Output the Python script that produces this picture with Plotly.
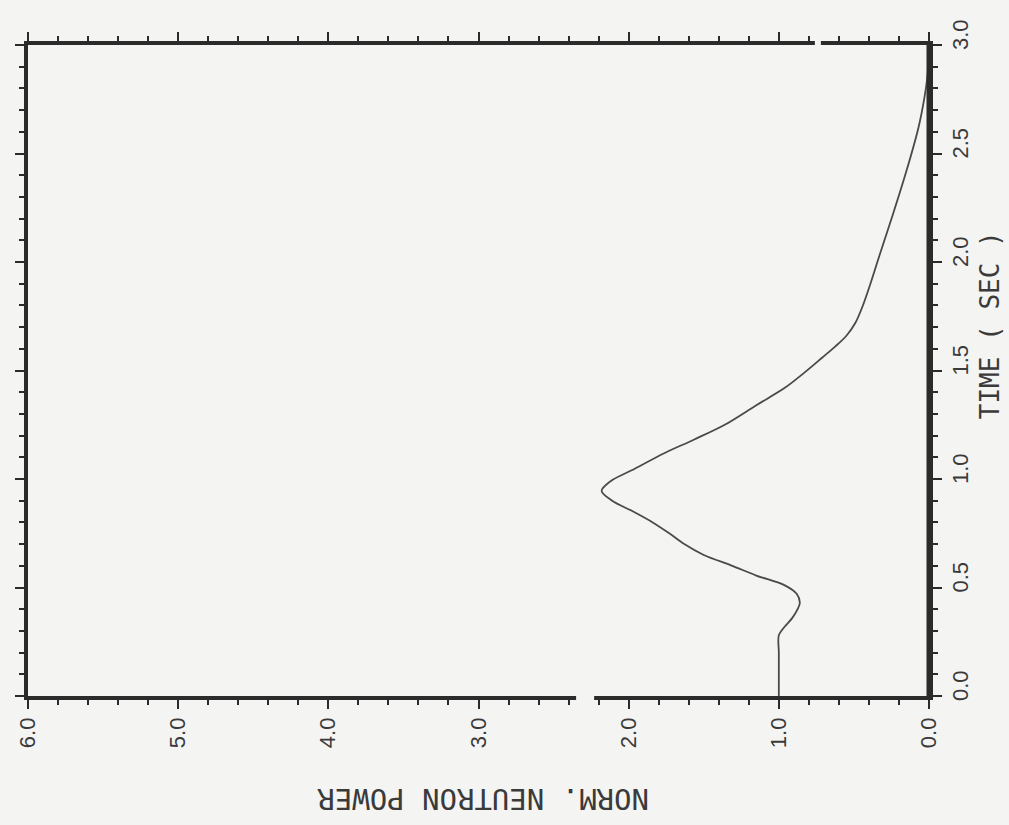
import plotly.graph_objects as go

# Transient: normalized neutron power versus time
time_s = [0.00, 0.10, 0.20, 0.28, 0.32, 0.36, 0.40, 0.43, 0.47, 0.51,
          0.555, 0.60, 0.65, 0.70, 0.75, 0.80, 0.85, 0.90, 0.945, 0.99,
          1.04, 1.12, 1.18, 1.25, 1.34, 1.42, 1.49, 1.56, 1.61, 1.66,
          1.72, 1.80, 1.90, 2.03, 2.22, 2.42, 2.62, 2.76, 2.86, 3.00]
power = [1.00, 1.00, 1.00, 1.00, 0.96, 0.91, 0.875, 0.86, 0.88, 0.96,
         1.15, 1.31, 1.50, 1.63, 1.73, 1.84, 1.97, 2.11, 2.18, 2.12,
         1.98, 1.76, 1.57, 1.36, 1.15, 0.96, 0.83, 0.71, 0.625, 0.55,
         0.49, 0.44, 0.39, 0.33, 0.24, 0.15, 0.07, 0.03, 0.01, 0.00]

power_ticks = [0, 1, 2, 3, 4, 5, 6]
power_labels = ["0.0", "1.0", "2.0", "3.0", "4.0", "5.0", "6.0"]
time_ticks = [0.0, 0.5, 1.0, 1.5, 2.0, 2.5, 3.0]
time_labels = ["0.0", "0.5", "1.0", "1.5", "2.0", "2.5", "3.0"]

power_title = "NORM. NEUTRON POWER"
time_title = "TIME ( SEC )"

PAPER = "#f4f4f2"
INK = "#2b2b2b"
TEXT = "#3a3a3a"

fig = go.Figure()
fig.add_trace(go.Scatter(
    x=power, y=time_s, mode="lines",
    line=dict(color="#4a4a4a", width=1.8, shape="spline", smoothing=0.9),
    hoverinfo="skip", showlegend=False,
))

axis_common = dict(
    showgrid=False, zeroline=False,
    showline=True, linecolor=INK, linewidth=3.5, mirror="allticks",
    ticks="outside", tickcolor=INK, tickwidth=2, ticklen=9,
    tickangle=-90,
    tickfont=dict(family="Liberation Sans", size=22, color=TEXT),
)

fig.update_xaxes(
    range=[6, 0], tickmode="array", tickvals=power_ticks, ticktext=power_labels,
    minor=dict(tickmode="linear", tick0=0, dtick=0.2, ticks="outside",
               ticklen=5, tickwidth=1.5, tickcolor=INK),
    ticklabelstandoff=0,
    **axis_common,
)
fig.update_yaxes(
    range=[0, 3], side="right", tickmode="array", tickvals=time_ticks,
    ticktext=time_labels,
    minor=dict(tickmode="linear", tick0=0, dtick=0.1, ticks="outside",
               ticklen=5, tickwidth=1.5, tickcolor=INK),
    ticklabelstandoff=0, ticklabelshift=-7,
    **axis_common,
)

# heavier time-axis frame line
fig.add_shape(type="line", xref="x", yref="paper", x0=0, x1=0, y0=0, y1=1,
              line=dict(color=INK, width=5), layer="above")

# small gaps in the frame lines
fig.add_shape(type="rect", xref="x", yref="paper", x0=2.35, x1=2.23,
              y0=-0.016, y1=0.007, fillcolor=PAPER, line_width=0, layer="above")
fig.add_shape(type="rect", xref="x", yref="paper", x0=0.76, x1=0.72,
              y0=0.993, y1=1.012, fillcolor=PAPER, line_width=0, layer="above")

fig.add_annotation(
    text=power_title, xref="x", yref="paper", x=2.97, y=-0.159,
    xanchor="center", yanchor="middle",
    textangle=180, showarrow=False,
    font=dict(family="DejaVu Sans Mono", size=29, color=TEXT),
)
fig.add_annotation(
    text=time_title, xref="paper", yref="y", x=1.068, y=1.71,
    xanchor="center", yanchor="middle",
    textangle=-90, showarrow=False,
    font=dict(family="DejaVu Sans Mono", size=26, color=TEXT),
)

fig.update_layout(
    width=1009, height=825,
    margin=dict(l=28, r=80, t=45, b=129),
    paper_bgcolor=PAPER, plot_bgcolor=PAPER,
    showlegend=False,
)

fig.write_html("out.html")
